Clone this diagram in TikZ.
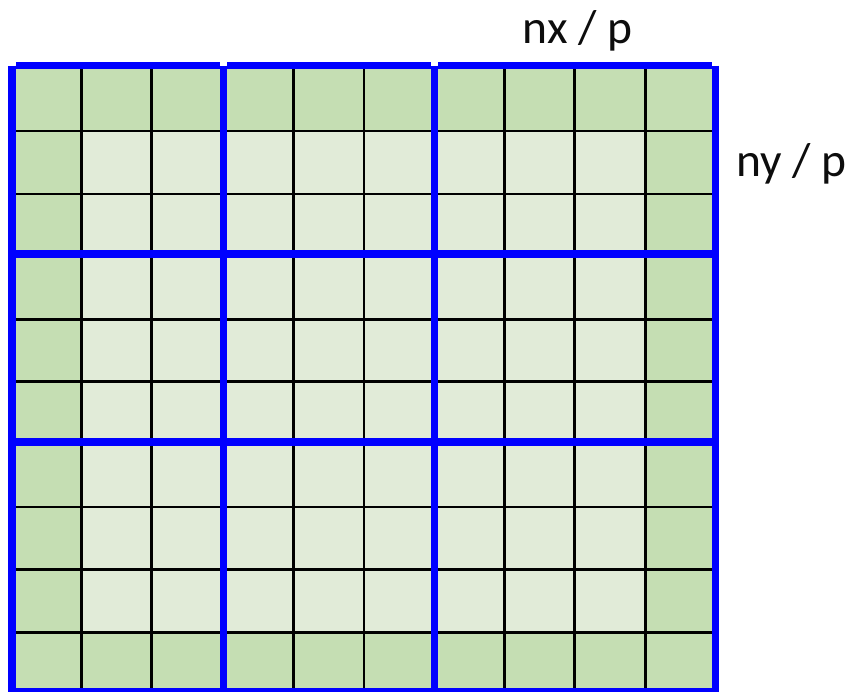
\documentclass[tikz,border=0pt]{standalone}
\usepackage{fontspec}
\setmainfont{Carlito}
\definecolor{darkcell}{HTML}{C5DEB3}
\definecolor{lightcell}{HTML}{E1EBD8}
\definecolor{gridblue}{HTML}{0000FF}
\tikzset{
  cellline/.style={draw=black, line width=2.6pt},
  blueline/.style={draw=gridblue, line width=7.6pt},
  label/.style={font=\fontsize{47.5}{52}\selectfont, anchor=base, inner sep=0pt, text=black!95}
}
\begin{document}
\begin{tikzpicture}[x=1pt,y=-1pt]
\useasboundingbox (0,0) rectangle (851,691);
\def\xs{{12,81.7,151.7,223.3,293.3,364,434.5,504.3,574.3,645.7,715.5}}
\def\ys{{65.5,131,194,253.7,319.3,381.7,442,507,569.7,632.7,691.5}}
% cells
\foreach \i in {0,...,9} {
  \foreach \j in {0,...,9} {
    \pgfmathsetmacro\xa{\xs[\i]}
    \pgfmathsetmacro\xb{\xs[\i+1]}
    \pgfmathsetmacro\ya{\ys[\j]}
    \pgfmathsetmacro\yb{\ys[\j+1]}
    \pgfmathtruncatemacro\edge{(\i==0)||(\i==9)||(\j==0)||(\j==9)}
    \ifnum\edge=1
      \fill[darkcell] (\xa,\ya) rectangle (\xb,\yb);
    \else
      \fill[lightcell] (\xa,\ya) rectangle (\xb,\yb);
    \fi
  }
}
% black grid lines
\foreach \k in {1,2,4,5,7,8,9} {
  \pgfmathsetmacro\xk{\xs[\k]}
  \pgfmathsetmacro\yk{\ys[\k]}
  \draw[cellline] (\xk,65.5) -- (\xk,691.5);
  \draw[cellline] (12,\yk) -- (715.5,\yk);
}
% blue block borders
\foreach \k in {3,6,10} {
  \pgfmathsetmacro\yk{\ys[\k]}
  \draw[blueline] (12,\yk) -- (715.5,\yk);
}
\draw[blueline] (16,65.5) -- (219.5,65.5);
\draw[blueline] (227.1,65.5) -- (430.7,65.5);
\draw[blueline] (438.3,65.5) -- (711.7,65.5);
\foreach \k in {0,3,6,10} {
  \pgfmathsetmacro\xk{\xs[\k]}
  \draw[blueline] (\xk,65.5) -- (\xk,695);
}
% labels
\node[label] (nxp) at (577.5,43.3) {nx / p};
\node[label] (nyp) at (791.5,176.7) {ny / p};
\end{tikzpicture}
\end{document}
